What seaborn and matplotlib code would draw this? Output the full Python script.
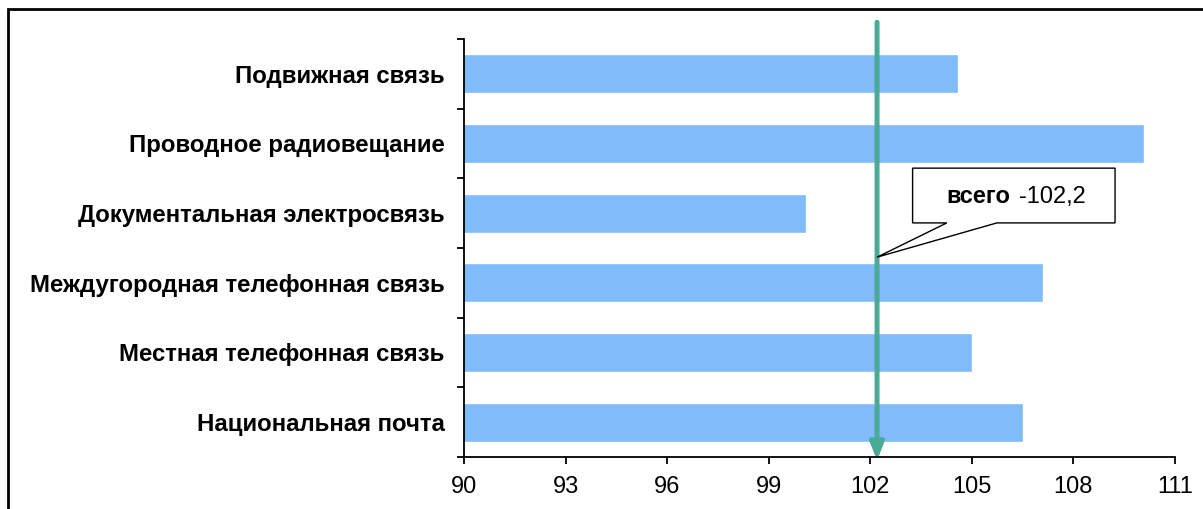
import matplotlib
matplotlib.use("Agg")
import matplotlib.pyplot as plt
import matplotlib.transforms as mtransforms
from matplotlib.patches import Polygon, Rectangle
from matplotlib.ticker import FixedLocator
import seaborn as sns

# данные
categories = ["Подвижная связь", "Проводное радиовещание", "Документальная электросвязь",
              "Междугородная телефонная связь", "Местная телефонная связь", "Национальная почта"]
values = [104.6, 110.1, 100.1, 107.1, 105.0, 106.5]
total = 102.2
x_ticks = [90, 93, 96, 99, 102, 105, 108, 111]

sns.set_style("white")
plt.rcParams['font.family'] = ['Liberation Sans', 'DejaVu Sans']
plt.rcParams['text.color'] = 'black'
plt.rcParams['xtick.color'] = 'black'
plt.rcParams['ytick.color'] = 'black'

fig = plt.figure(figsize=(12.03, 5.09), dpi=100)
ax = fig.add_axes([0.3857, 0.1022, 0.591, 0.8212])

sns.barplot(x=values, y=categories, orient="h", color="#80BBFA", saturation=1,
            width=0.56, ax=ax)

ax.set_xlim(90, 111)
ax.set_ylim(5.5, -0.5)
ax.set_xticks(x_ticks)
ax.set_xticklabels([str(t) for t in x_ticks], fontsize=17)
ax.set_xlabel("")
ax.set_ylabel("")
for lbl in ax.get_yticklabels():
    lbl.set_fontweight("bold")
    lbl.set_fontsize(17.3)

ax.tick_params(axis="y", which="major", length=0, pad=14)
ax.yaxis.set_minor_locator(FixedLocator([i - 0.5 for i in range(len(categories) + 1)]))
ax.tick_params(axis="y", which="minor", length=5, width=1.3, color="black", direction="out", left=True)
ax.tick_params(axis="x", length=5, width=1.3, color="black", direction="out", bottom=True, pad=9)

sns.despine(ax=ax, top=True, right=True)
for s in ["left", "bottom"]:
    ax.spines[s].set_color("black")
    ax.spines[s].set_linewidth(1.3)

# линия "всего" со стрелкой
trans = mtransforms.blended_transform_factory(ax.transData, ax.transAxes)
ax.annotate("", xy=(total, -0.008), xytext=(total, 1.04), xycoords=trans, textcoords=trans,
            arrowprops=dict(arrowstyle="-|>,head_length=1.0,head_width=0.4", color="#4BAA96",
                            lw=3.6, shrinkA=0, shrinkB=0),
            annotation_clip=False, zorder=5)

# выноска
callout = Polygon([(103.25, 0.691), (109.23, 0.691), (109.23, 0.560), (105.74, 0.560),
                   (total, 0.478), (104.26, 0.560), (103.25, 0.560)],
                  closed=True, transform=trans, facecolor="white", edgecolor="black",
                  lw=1.0, zorder=6, clip_on=False)
ax.add_patch(callout)
ax.text(106.12, 0.622, "всего", transform=trans, ha="right", va="center",
        fontsize=17, fontweight="bold", zorder=7)
ax.text(106.39, 0.622, "-" + f"{total:.1f}".replace(".", ","), transform=trans,
        ha="left", va="center", fontsize=17, zorder=7)

# рамка
fig.patches.append(Rectangle((8 / 1203, -0.1), 1.2, 1.1 - 9 / 509, transform=fig.transFigure,
                             fill=False, edgecolor="black", lw=2, zorder=10))

fig.savefig("out.png", dpi=100)
